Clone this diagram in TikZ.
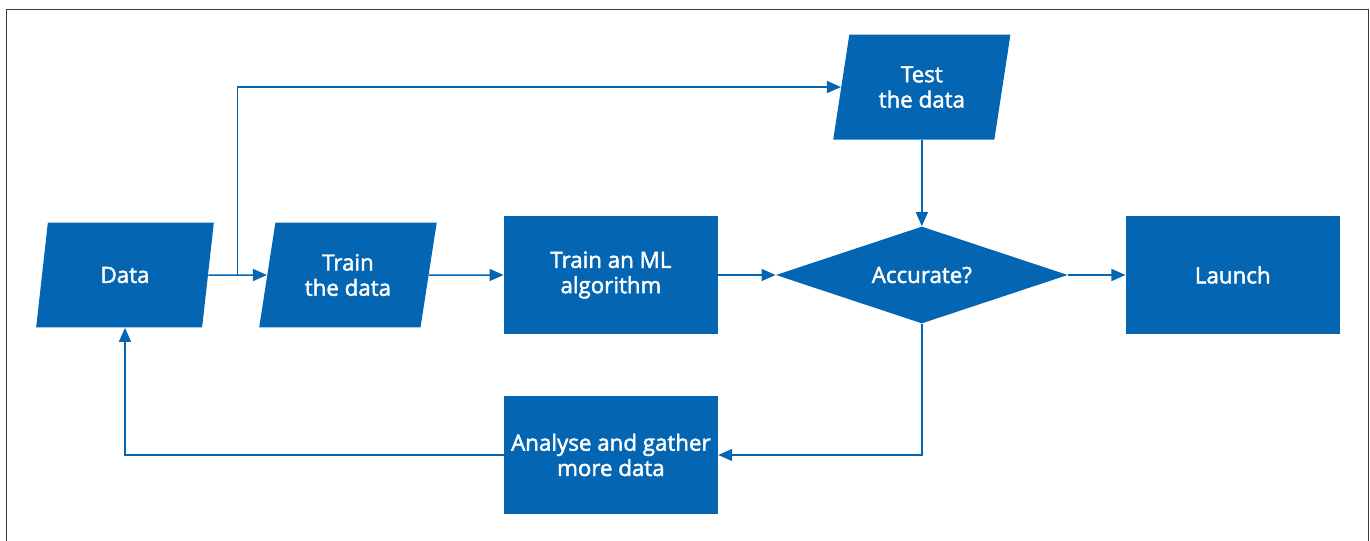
\documentclass[tikz,border=0pt]{standalone}
\usepackage{fontspec}
\newfontfamily\flowfont{Open Sans}[FakeBold=2]
\usetikzlibrary{arrows.meta, calc, positioning, shapes.geometric}

\definecolor{flowblue}{HTML}{0466B3}
\definecolor{framegray}{HTML}{3A3A3A}

\tikzset{
  box text/.style={fill=flowblue, text=white, align=center, inner sep=0pt,
    font=\flowfont\fontsize{12.7}{14.4}\selectfont},
  block/.style={box text, rectangle, minimum width=4.28cm, minimum height=2.36cm},
  io/.style={box text, trapezium, trapezium left angle=77, trapezium right angle=103,
    trapezium stretches=true, minimum width=3.56cm, minimum height=2.1cm},
  decision/.style={box text, diamond, aspect=3, minimum width=5.84cm, minimum height=1.94cm},
  flow/.style={draw=flowblue, line width=0.03cm,
    -{Triangle[length=0.28cm,width=0.24cm]}},
}

\begin{document}
\begin{tikzpicture}[x=0.02cm, y=-0.02cm, on grid]
        \useasboundingbox (0,0) rectangle (1370,541);
        \draw[framegray, line width=0.02cm] (6,560) -- (6,9.5) -- (1368,9.5) -- (1368,560);

        \node[io]       (data)    at (125,275)             {Data};
        \node[io]       (train)   [right=4.46cm of data]   {Train\\the data};
        \node[block]    (ml)      [right=5.26cm of train]  {Train an ML\\algorithm};
        \node[decision] (acc)     [right=6.22cm of ml]     {Accurate?};
        \node[block]    (launch)  [right=6.22cm of acc]    {Launch};
        \node[io]       (test)    [above=3.76cm of acc]    {Test\\the data};
        \node[block]    (analyse) [below=3.60cm of ml]     {Analyse and gather\\more data};

        \coordinate (split) at ($(data.east)!0.5!(train.west)$);

        \path[flow] (data.east) -- (train.west);
        \path[flow] (split) |- (test.west);
        \path[flow] (train.east) -- (ml.west);
        \path[flow] (ml.east) -- (acc.west);
        \path[flow] (acc |- test.south) -- (acc.north);
        \path[flow] (acc.east) -- (launch.west);
        \path[flow] (acc.south) |- (analyse.east);
        \path[flow] (analyse.west) -| (data.south);
    \end{tikzpicture}
\end{document}
